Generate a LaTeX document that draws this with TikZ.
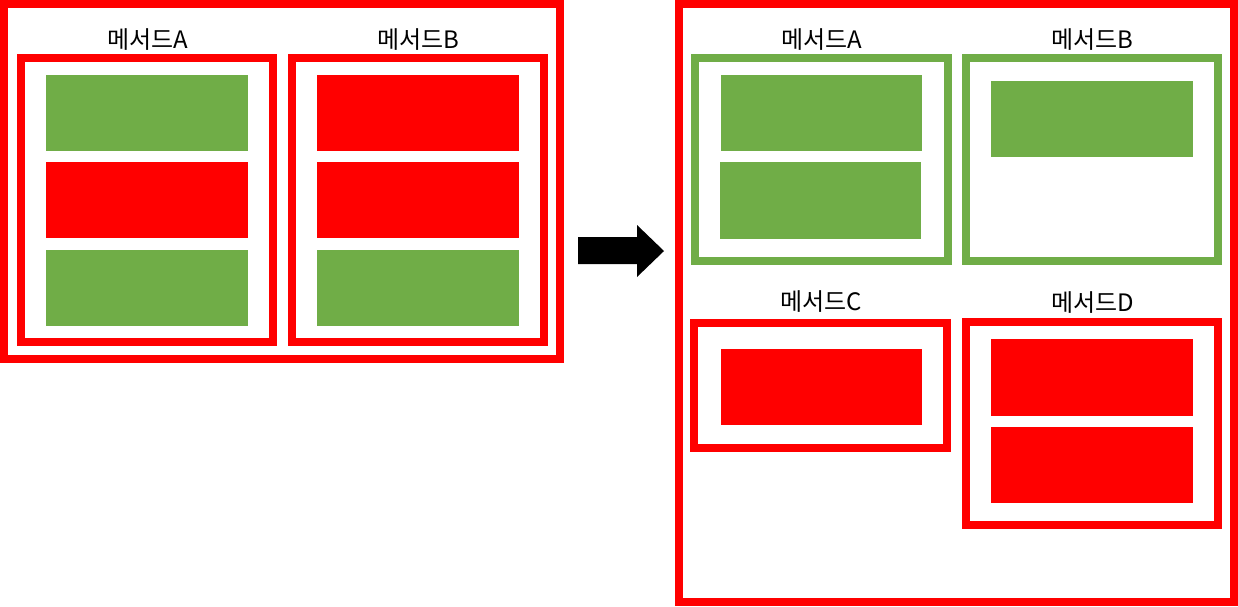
\documentclass[tikz,border=0pt]{standalone}
\usepackage{fontspec}
\newfontfamily\krfont{Noto Sans CJK KR}
\definecolor{myred}{HTML}{FF0000}
\definecolor{mygreen}{HTML}{70AD47}
\begin{document}
\begin{tikzpicture}[x=1pt,y=-1pt,
  frame/.style={draw=#1,line width=8pt,inner sep=0pt,outer sep=0pt,fill=none},
  bar/.style={fill=#1,draw=none,inner sep=0pt,outer sep=0pt,minimum width=202pt,minimum height=76pt},
  lbl/.style={anchor=base,inner sep=0pt,font=\krfont\fontsize{24}{28}\selectfont}]
\useasboundingbox (0,0) rectangle (1238,606);
% left group
\node[frame=myred,minimum width=556pt,minimum height=355pt] (louter) at (282,181.5) {};
\node[frame=myred,minimum width=252pt,minimum height=284pt] (lA) at (147,200) {};
\node[frame=myred,minimum width=252pt,minimum height=284pt] (lB) at (418,200) {};
\node[lbl] (lAl) at (148,48) {메서드A};
\node[lbl] (lBl) at (418,48) {메서드B};
\node[bar=mygreen] (lA1) at (147,113) {};
\node[bar=myred] (lA2) at (147,200) {};
\node[bar=mygreen] (lA3) at (147,288) {};
\node[bar=myred] (lB1) at (418,113) {};
\node[bar=myred] (lB2) at (418,200) {};
\node[bar=mygreen] (lB3) at (418,288) {};
% arrow
\fill[black] (578,237) -- (637,237) -- (637,225) -- (664,251) -- (637,277) -- (637,264) -- (578,264) -- cycle;
% right group
\node[frame=myred,minimum width=555pt,minimum height=598pt] (router) at (956.5,303) {};
\node[frame=mygreen,minimum width=253pt,minimum height=203pt] (rA) at (821.5,159.5) {};
\node[frame=mygreen,minimum width=252pt,minimum height=203pt] (rB) at (1092,159.5) {};
\node[frame=myred,minimum width=253pt,minimum height=125pt] (rC) at (820.5,385.5) {};
\node[frame=myred,minimum width=252pt,minimum height=203pt] (rD) at (1092,423.5) {};
\node[lbl] (rAl) at (821.5,48) {메서드A};
\node[lbl] (rBl) at (1092,48) {메서드B};
\node[lbl] (rCl) at (821,310) {메서드C};
\node[lbl] (rDl) at (1093,311) {메서드D};
\node[bar=mygreen,minimum width=201pt] (rA1) at (821.5,113) {};
\node[bar=mygreen,minimum width=201pt,minimum height=77pt] (rA2) at (820.5,200.5) {};
\node[bar=mygreen] (rB1) at (1092,119) {};
\node[bar=myred,minimum width=201pt] (rC1) at (821.5,387) {};
\node[bar=myred,minimum height=77pt] (rD1) at (1092,377.5) {};
\node[bar=myred] (rD2) at (1092,465) {};
\end{tikzpicture}
\end{document}
